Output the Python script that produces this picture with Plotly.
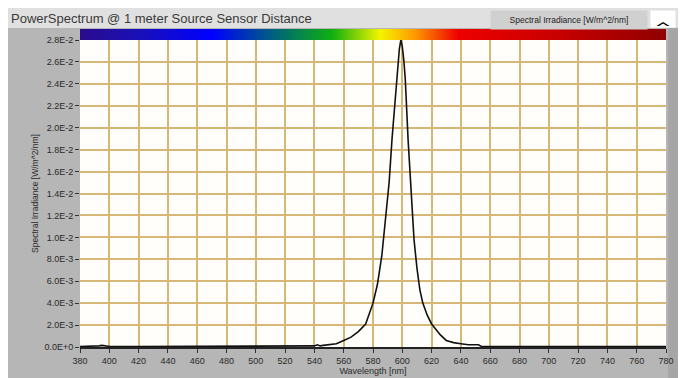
import plotly.graph_objects as go

# ---- data ----
wavelength_nm = [380, 390, 393, 395, 397, 400, 420, 500, 538, 540, 542, 544, 546, 550, 555,
                 560, 565, 570, 575, 580, 583, 586, 589, 591, 593, 595, 597, 598, 599, 600,
                 601, 602, 604, 606, 608, 610, 612, 614, 617, 620, 623, 626, 630, 635, 640,
                 645, 652, 654, 700, 780]
irradiance = [0.00005, 0.00005, 0.0001, 0.00015, 0.0001, 0.00005, 0.00005, 0.00005, 0.00005, 0.0001,
              0.0002, 0.0001, 0.00015, 0.0002, 0.0003, 0.0006, 0.0009, 0.0014, 0.0021, 0.0040,
              0.0057, 0.0083, 0.0120, 0.0150, 0.0190, 0.0225, 0.0260, 0.0272, 0.0280, 0.0274,
              0.0262, 0.0245, 0.0188, 0.0138, 0.0098, 0.0072, 0.0052, 0.0040, 0.0029, 0.0021,
              0.0016, 0.0011, 0.0006, 0.0004, 0.0003, 0.0002, 0.0002, 0.00005, 0.00005, 0.00005]

x_ticks = [380, 400, 420, 440, 460, 480, 500, 520, 540, 560, 580, 600, 620, 640, 660, 680,
           700, 720, 740, 760, 780]
y_tick_vals = [0.0, 0.002, 0.004, 0.006, 0.008, 0.010, 0.012, 0.014, 0.016, 0.018, 0.020,
               0.022, 0.024, 0.026, 0.028]
y_tick_text = ["0.0E+0", "2.0E-3", "4.0E-3", "6.0E-3", "8.0E-3", "1.0E-2", "1.2E-2", "1.4E-2",
               "1.6E-2", "1.8E-2", "2.0E-2", "2.2E-2", "2.4E-2", "2.6E-2", "2.8E-2"]

# visible-spectrum colour band stops
spectrum_nm = [380, 420, 470, 516, 552, 585, 608, 638, 700, 780]
spectrum_colors = ["#2a0c8c", "#1a10b8", "#0000ff", "#006a70", "#10b010", "#f4f400",
                   "#ff9a00", "#ee0000", "#cc0000", "#900000"]

series_name = "Spectral Irradiance [W/m^2/nm]"
title_text = "PowerSpectrum @ 1 meter Source Sensor Distance"

# ---- figure ----
lo, hi = spectrum_nm[0], spectrum_nm[-1]
colorscale = [[(w - lo) / (hi - lo), c] for w, c in zip(spectrum_nm, spectrum_colors)]

fig = go.Figure()
fig.add_trace(go.Heatmap(
    x=spectrum_nm, y=[0, 1], z=[spectrum_nm, spectrum_nm],
    colorscale=colorscale, zmin=lo, zmax=hi, zsmooth="best",
    showscale=False, hoverinfo="skip", xaxis="x", yaxis="y2",
))
fig.add_trace(go.Scatter(
    x=wavelength_nm, y=irradiance, mode="lines", name=series_name,
    line=dict(color="#111111", width=1.6), showlegend=False,
))

grid_color = "#d6b876"
font_family = "Liberation Sans, Arial, sans-serif"
tick_font = dict(family=font_family, size=9, color="#2a2a2a")

fig.update_layout(
    width=678, height=370,
    margin=dict(l=72, r=20, t=21, b=31, autoexpand=False),
    paper_bgcolor="#b6b6b6",
    plot_bgcolor="#fffefa",
    showlegend=False,
    xaxis=dict(
        range=[380, 780], tickvals=x_ticks, ticktext=[str(v) for v in x_ticks],
        showgrid=True, gridcolor=grid_color, gridwidth=2, automargin=False,
        ticks="outside", ticklen=4, tickcolor="#333", tickfont=tick_font,
        showline=True, linecolor="#222", linewidth=1.5, zeroline=False, layer="below traces",
        title=dict(text="Wavelength [nm]", font=dict(family=font_family, size=9, color="#2a2a2a"),
                   standoff=2),
    ),
    yaxis=dict(
        domain=[0, 0.9654], range=[0, 0.028],
        tickvals=y_tick_vals, ticktext=y_tick_text, automargin=False,
        showgrid=True, gridcolor=grid_color, gridwidth=2,
        ticks="outside", ticklen=4, tickcolor="#333", tickfont=tick_font,
        zeroline=False, showline=False,
        title=dict(text=series_name, font=dict(family=font_family, size=8.5, color="#2a2a2a"),
                   standoff=4),
    ),
    yaxis2=dict(domain=[0.9654, 1.0], range=[0, 1], visible=False, fixedrange=True),
    shapes=[
        # light window band behind the title
        dict(type="rect", xref="paper", yref="paper", x0=-0.13, x1=1.04, y0=1.003, y1=1.07,
             fillcolor="#e0e0e0", line=dict(width=0), layer="below"),
        # darker strip at the right
        dict(type="rect", xref="paper", yref="paper", x0=1.0034, x1=1.04, y0=-0.1, y1=1.003,
             fillcolor="#a6a6a6", line=dict(width=0), layer="below"),
    ],
    annotations=[
        dict(text=title_text, xref="paper", yref="paper", x=-0.121, y=1.062,
             xanchor="left", yanchor="top", showarrow=False,
             font=dict(family=font_family, size=13, color="#3a3a3a")),
        dict(text=series_name, xref="paper", yref="paper", x=0.969, y=1.06,
             xanchor="right", yanchor="top", showarrow=False, bgcolor="#d0d0d0",
             borderpad=4, width=148,
             font=dict(family=font_family, size=8.5, color="#222")),
        dict(text="<b>︿</b>", xref="paper", yref="paper", x=1.017, y=1.06,
             xanchor="right", yanchor="top", showarrow=False, bgcolor="#ffffff",
             borderpad=1, width=22, height=14,
             font=dict(family="Noto Sans CJK SC, DejaVu Sans", size=13, color="#000")),
    ],
)

fig.write_html("out.html")
